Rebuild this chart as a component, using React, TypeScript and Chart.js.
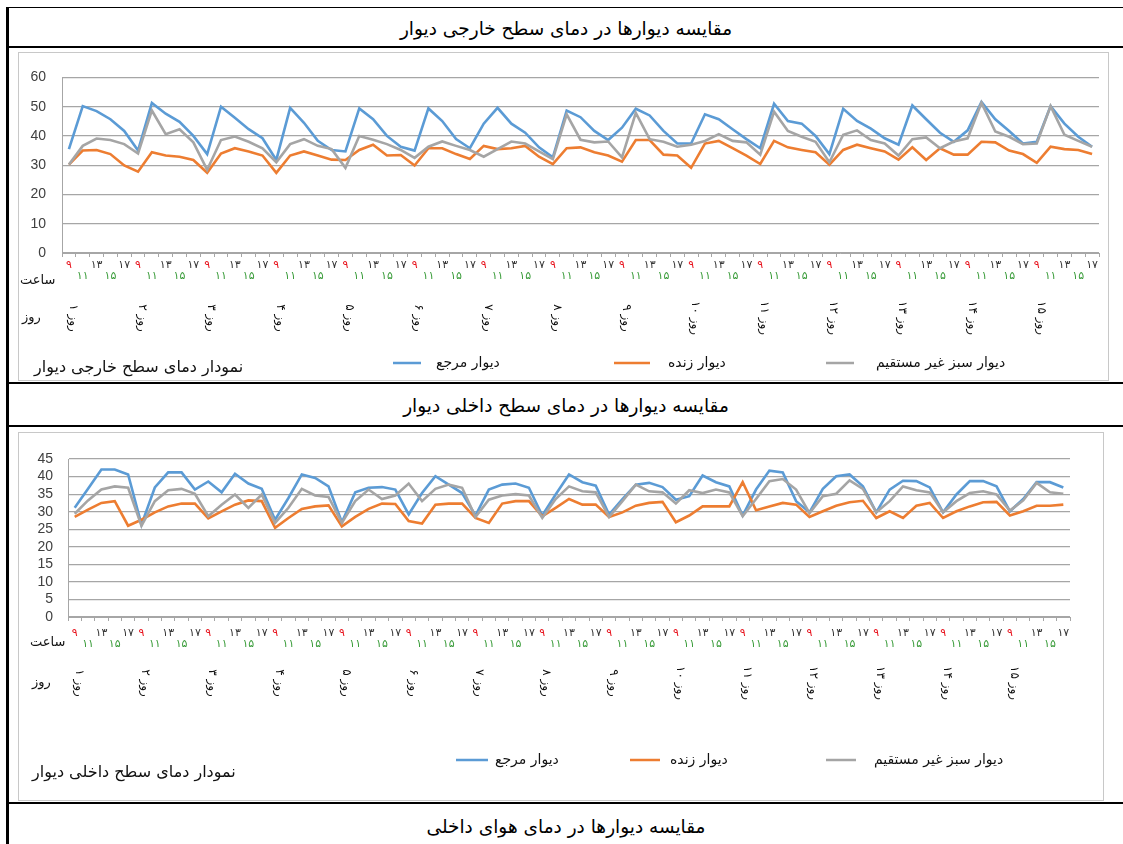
import React, { useEffect, useRef } from "react";
import { Chart, registerables } from "chart.js";

Chart.register(...registerables);

// ---------- data ----------
const dayLabels = [
  "روز ۱", "روز ۲", "روز ۳", "روز ۴", "روز ۵", "روز ۶", "روز ۷", "روز ۸",
  "روز ۹", "روز ۱۰", "روز ۱۱", "روز ۱۲", "روز ۱۳", "روز ۱۴", "روز ۱۵",
];
const hourLabels = ["۹", "۱۱", "۱۳", "۱۵", "۱۷"];
const seriesNames = ["دیوار مرجع", "دیوار زنده", "دیوار سبز غیر مستقیم"];
const seriesColors = ["#5b9bd5", "#ed7d31", "#a5a5a5"];

// outer surface temperature
const outerRef = [
  35.5, 50.2, 48.5, 45.7, 41.7, 35, 51.3, 47.6, 44.8, 40, 33.8, 50, 46.2, 42.3, 39.2,
  31.8, 49.6, 44.5, 38.3, 35.2, 34.7, 49.4, 45.7, 40, 36.3,
  35, 49.4, 45.1, 38.9, 35.8, 44.2, 49.6, 44.2, 41.1, 36.1, 32.7, 48.7, 46.4, 41.7, 38.6,
  42.8, 49.3, 47, 41.7, 37.4, 37.4, 47.4, 45.7, 42.3, 38.9, 35.8,
  51, 45.1, 44.2, 40, 33.8, 49.3, 45.1, 42.5, 39.2, 37, 50.4, 45.7, 41.1, 38, 41.9,
  51.6, 45.7, 41.7, 37.4, 38, 50.2, 44.2, 39.7, 36.3,
];
const outerLive = [
  30.2, 35, 35.2, 33.8, 29.9, 27.8, 34.4, 33.3, 32.9, 31.8, 27.4, 34, 35.8, 34.7, 33.3,
  27.4, 33.3, 34.7, 33.3, 31.9, 31.8, 35.2, 37, 33.3, 33.5,
  29.9, 35.8, 35.8, 33.8, 32.1, 36.6, 35.5, 35.8, 36.6, 32.9, 30.4, 35.8, 36.1, 34.4, 33.3,
  31.2, 38.6, 38.6, 33.6, 33.3, 29.1, 37.4, 38.3, 35.8, 33.3, 30.4,
  38.3, 36.1, 35.2, 34.4, 30.2, 35.2, 37, 35.8, 34.7, 31.9, 36.1, 31.8, 35.8, 33.6, 33.6,
  38, 37.8, 35, 33.8, 30.8, 36.3, 35.5, 35.2, 33.8,
];
const outerGreen = [
  30.2, 36.6, 39.1, 38.6, 37.2, 34, 48.7, 40.6, 42.3, 37.8, 28.4, 38.6, 39.8, 38, 35.8,
  31, 37.2, 38.9, 36.6, 35.5, 29.1, 40, 38.7, 37.2, 35.2,
  32.5, 36.3, 38.1, 36.6, 35.2, 32.9, 35.5, 38.1, 37.4, 34.7, 32.1, 47.4, 38.7, 37.8, 38.1,
  32.7, 47.9, 38.9, 38, 36.3, 37, 38.3, 40.6, 38.3, 37.8, 33.6,
  48.3, 41.7, 39.7, 38, 31, 40.4, 41.9, 38.6, 37.4, 33.3, 38.9, 39.5, 35.8, 38.1, 39.2,
  51.3, 41.5, 39.7, 37.2, 37.4, 50.2, 40.4, 38.3, 36.3,
];

// inner surface temperature
const innerRef = [
  31.1, 36.5, 42, 42, 40.6, 26.3, 36.9, 41.2, 41.2, 36.3, 38.6, 35.5, 40.8, 38, 36.5,
  27.7, 33.9, 40.6, 39.6, 37.2, 27, 35.5, 36.8, 37, 36.3,
  29.2, 35.3, 40.1, 37.7, 35.3, 28.9, 36.3, 37.7, 38, 36.8, 28.9, 34.9, 40.6, 38.4, 37.4,
  29.2, 33.6, 37.7, 38.2, 37, 33.4, 34.4, 40.3, 38.4, 37.2, 28.9, 36.3, 41.7,
  41.2, 33, 29.8, 36.5, 40.1, 40.6, 37.2, 29.8, 36.3, 38.8, 38.7, 36.9, 29.8, 34.9, 38.7,
  38.7, 37.2, 30.1, 33.6, 38.4, 38.4, 36.9,
];
const innerLive = [
  28.5, 30.6, 32.5, 33, 26, 27.7, 29.8, 31.5, 32.3, 32.3, 28.1, 30.1, 32, 33.2, 33,
  25.4, 28.2, 30.8, 31.5, 31.8, 25.8, 28.5, 30.8, 32.3, 32.2,
  27.3, 26.6, 32, 32.3, 32.3, 28.2, 26.8, 32.3, 33, 33, 28.7, 31.1, 33.6, 32, 32,
  28.5, 29.8, 31.7, 32.5, 32.8, 27, 28.9, 31.5, 31.5, 31.5, 38.4, 30.4, 31.5,
  32.5, 32, 28.5, 30.1, 31.7, 32.7, 33.1, 28.2, 30.1, 28.2, 31.7, 32.5, 28.2, 30.1, 31.5,
  32.7, 32.8, 28.9, 30.1, 31.7, 31.7, 32,
];
const innerGreen = [
  29.4, 33.2, 36.3, 37.2, 36.8, 26, 33, 36.1, 36.5, 35.1, 28.7, 32, 34.9, 31.1, 34.9,
  26.8, 31.1, 36.5, 34.6, 34.2, 26.8, 33, 36.3, 33.6, 34.6,
  38, 33, 36.5, 37.7, 36.8, 28.5, 33.4, 34.6, 35, 34.6, 28.2, 33.6, 37.2, 35.8, 35.5,
  28.5, 33, 37.7, 35.8, 35.5, 32.3, 36.1, 35.3, 36.3, 35.5, 28.7, 33.6, 38.7,
  39.3, 36.3, 29.6, 34.4, 35.1, 38.9, 36.5, 29.8, 33, 37.2, 36.1, 35.5, 29.8, 33, 35.3,
  35.8, 34.9, 30.3, 33.2, 38.2, 35.5, 35.1,
];

const outerCaption = "نمودار دمای سطح خارجی دیوار";
const innerCaption = "نمودار دمای سطح داخلی دیوار";
const titles = [
  "مقایسه دیوارها در دمای سطح خارجی دیوار",
  "مقایسه دیوارها در دمای سطح داخلی دیوار",
  "مقایسه دیوارها در دمای هوای داخلی",
];
const hourCaption = "ساعت";
const dayCaption = "روز";

const FA = '"DejaVu Sans", sans-serif';

type Cfg = {
  box: { left: number; top: number; width: number; height: number };
  plot: { left: number; right: number; top: number; bottom: number };
  yMax: number;
  yStep: number;
  yPad: number;
  xPad: number;
  hourCapY: number;
  hourCapX: number;
  dayCapY: number;
  dayCapX: number;
  dayY: number;
  dayDx: number;
  legendY: number;
  legend: { x1: number; x2: number; tx: number }[];
  caption: string;
  capX: number;
  capY: number;
  series: number[][];
};

function WallChart({ cfg }: { cfg: Cfg }) {
  const ref = useRef<HTMLCanvasElement>(null);
  useEffect(() => {
    const c = cfg;
    const ox = c.box.left;
    const oy = c.box.top;
    const labels: string[][] = [];
    const labelColors: string[] = [];
    for (let d = 0; d < dayLabels.length; d++) {
      for (let h = 0; h < hourLabels.length; h++) {
        labels.push(h % 2 === 0 ? [hourLabels[h], ""] : ["", hourLabels[h]]);
        labelColors.push(h === 0 ? "#e8141e" : h % 2 === 1 ? "#3a9c3a" : "#333333");
      }
    }
    const overlay = {
      id: "overlay",
      afterDraw(chart: any) {
        const ctx = chart.ctx as CanvasRenderingContext2D;
        const xs = chart.scales.x;
        ctx.save();
        ctx.fillStyle = "#111";
        (ctx as any).direction = "rtl";
        ctx.font = `13px ${FA}`;
        ctx.textBaseline = "middle";
        ctx.textAlign = "left";
        ctx.fillText(hourCaption, c.hourCapX - ox, c.hourCapY - oy);
        ctx.fillText(dayCaption, c.dayCapX - ox, c.dayCapY - oy);
        // rotated day labels
        ctx.font = `12px ${FA}`;
        dayLabels.forEach((t, d) => {
          const x = xs.getPixelForValue(d * hourLabels.length) + c.dayDx;
          ctx.save();
          ctx.translate(x, c.dayY - oy);
          ctx.rotate(Math.PI / 2);
          ctx.textAlign = "center";
          ctx.fillText(t, 0, 0);
          ctx.restore();
        });
        // legend
        ctx.font = `14px ${FA}`;
        ctx.textAlign = "left";
        c.legend.forEach((l, i) => {
          ctx.strokeStyle = seriesColors[i];
          ctx.lineWidth = 2.5;
          ctx.beginPath();
          ctx.moveTo(l.x1 - ox, c.legendY - oy);
          ctx.lineTo(l.x2 - ox, c.legendY - oy);
          ctx.stroke();
          ctx.fillText(seriesNames[i], l.tx - ox, c.legendY - oy);
        });
        ctx.font = `16px ${FA}`;
        ctx.fillText(c.caption, c.capX - ox, c.capY - oy);
        ctx.restore();
      },
    };
    const chart = new Chart(ref.current as HTMLCanvasElement, {
      type: "line",
      data: {
        labels,
        datasets: c.series.map((s, i) => ({
          label: seriesNames[i],
          data: s,
          borderColor: seriesColors[i],
          backgroundColor: seriesColors[i],
          borderWidth: 2.6,
          pointRadius: 0,
          tension: 0,
          order: i === 0 ? 2 : i === 1 ? 1 : 0,
        })),
      },
      options: {
        responsive: false,
        animation: false,
        events: [],
        layout: {
          padding: {
            top: c.plot.top - oy,
            right: ox + c.box.width - c.plot.right,
            left: 0,
            bottom: 0,
          },
        },
        plugins: { legend: { display: false }, tooltip: { enabled: false }, title: { display: false } },
        scales: {
          x: {
            offset: true,
            grid: {
              offset: true,
              drawOnChartArea: false,
              drawTicks: true,
              tickLength: 4,
              color: "#a6a6a6",
            },
            border: { display: true, color: "#a6a6a6" },
            ticks: {
              autoSkip: false,
              maxRotation: 0,
              minRotation: 0,
              padding: c.xPad,
              font: { family: FA, size: 11, lineHeight: 1.05 },
              color: (ctx: any) => labelColors[ctx.index] || "#333",
            },
            afterFit: (scale: any) => {
              scale.height = oy + c.box.height - c.plot.bottom;
            },
          },
          y: {
            min: 0,
            max: c.yMax,
            grid: { color: "#a6a6a6", drawTicks: false, lineWidth: 1.2 },
            border: { display: true, color: "#a6a6a6" },
            ticks: {
              stepSize: c.yStep,
              autoSkip: false,
              padding: c.yPad,
              font: { family: '"Liberation Sans", sans-serif', size: 14 },
              color: "#404040",
            },
            afterFit: (scale: any) => {
              scale.width = c.plot.left - ox;
            },
          },
        },
      },
      plugins: [overlay],
    } as any);
    return () => chart.destroy();
  }, []);
  const b = cfg.box;
  return (
    <>
      <div
        style={{
          position: "absolute",
          left: b.left - 1,
          top: b.top - 1,
          width: b.width,
          height: b.height,
          border: "1px solid #c8c8c8",
        }}
      />
      <canvas
        ref={ref}
        width={b.width}
        height={b.height}
        style={{ position: "absolute", left: b.left, top: b.top, width: b.width, height: b.height }}
      />
    </>
  );
}

const outerCfg: Cfg = {
  box: { left: 19, top: 53, width: 1089, height: 327 },
  plot: { left: 62, right: 1099, top: 76, bottom: 253 },
  yMax: 60,
  yStep: 10,
  yPad: 16,
  xPad: 2,
  hourCapX: 20,
  hourCapY: 281,
  dayCapX: 22,
  dayCapY: 318,
  dayY: 318,
  dayDx: 4,
  legendY: 363,
  legend: [
    { x1: 393, x2: 421, tx: 436 },
    { x1: 614, x2: 650, tx: 668 },
    { x1: 826, x2: 854, tx: 876 },
  ],
  caption: outerCaption,
  capX: 34,
  capY: 368,
  series: [outerRef, outerLive, outerGreen],
};

const innerCfg: Cfg = {
  box: { left: 19, top: 433, width: 1084, height: 367 },
  plot: { left: 68, right: 1070, top: 459, bottom: 617 },
  yMax: 45,
  yStep: 5,
  yPad: 15,
  xPad: 6,
  hourCapX: 30,
  hourCapY: 643,
  dayCapX: 32,
  dayCapY: 683,
  dayY: 683,
  dayDx: 4,
  legendY: 760,
  legend: [
    { x1: 456, x2: 488, tx: 495 },
    { x1: 630, x2: 660, tx: 670 },
    { x1: 826, x2: 856, tx: 874 },
  ],
  caption: innerCaption,
  capX: 32,
  capY: 773,
  series: [innerRef, innerLive, innerGreen],
};

const line = (left: number, top: number, width: number, height: number) => (
  <div style={{ position: "absolute", left, top, width, height, background: "#000" }} />
);

const titleStyle = (top: number): React.CSSProperties => ({
  position: "absolute",
  left: 10,
  width: 1112,
  top,
  height: 30,
  lineHeight: "30px",
  textAlign: "center",
  fontFamily: FA,
  fontSize: 18.5,
  color: "#000",
  direction: "rtl",
  whiteSpace: "nowrap",
});

export default function App() {
  return (
    <div
      style={{
        position: "absolute",
        left: 0,
        top: 0,
        width: 1123,
        height: 844,
        background: "#fff",
        overflow: "hidden",
      }}
    >
      {line(6, 7, 1117, 1)}
      {line(6, 7, 3, 837)}
      {line(6, 46, 1117, 2)}
      {line(6, 382, 1117, 2)}
      {line(6, 425, 1117, 2)}
      {line(6, 802, 1117, 2)}
      <div style={titleStyle(14)}>{titles[0]}</div>
      <div style={titleStyle(391)}>{titles[1]}</div>
      <div style={titleStyle(812)}>{titles[2]}</div>
      <WallChart cfg={outerCfg} />
      <WallChart cfg={innerCfg} />
    </div>
  );
}
